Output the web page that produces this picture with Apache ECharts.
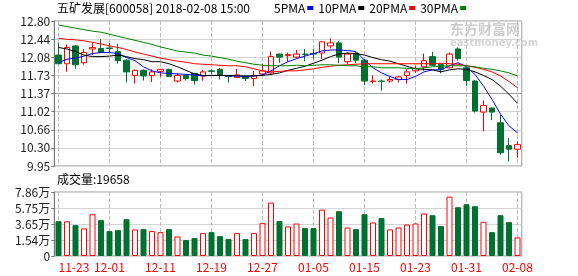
<!DOCTYPE html>
<html><head><meta charset="utf-8">
<script src="https://cdn.jsdelivr.net/npm/echarts@6/dist/echarts.min.js"></script>
<style>html,body{margin:0;padding:0;background:#fff}#c{width:578px;height:276px}</style>
</head><body><div id="c"></div>
<script>
const dates = ['11-23','11-24','11-27','11-28','11-29','11-30','12-01','12-04','12-05','12-06','12-07','12-08','12-11','12-12','12-13','12-14','12-15','12-18','12-19','12-20','12-21','12-22','12-25','12-26','12-27','12-28','12-29','01-02','01-03','01-04','01-05','01-08','01-09','01-10','01-11','01-12','01-15','01-16','01-17','01-18','01-19','01-22','01-23','01-24','01-25','01-26','01-29','01-30','01-31','02-01','02-02','02-05','02-06','02-07','02-08'];
const opens  = [12.13,11.96,12.31,11.98,12.25,12.26,12.27,12.20,12.03,11.73,11.83,11.73,11.81,11.85,11.62,11.73,11.77,11.72,11.82,11.85,11.72,11.69,11.71,11.67,11.76,11.78,12.15,12.12,12.09,12.15,12.16,12.17,12.31,12.37,12.00,12.16,12.03,11.61,11.62,11.62,11.65,11.73,11.82,11.90,12.10,11.95,11.88,12.25,11.88,11.62,11.01,11.09,10.80,10.35,10.28];
const closes = [11.96,12.28,11.94,12.18,12.28,12.18,12.26,12.02,11.80,11.83,11.72,11.80,11.85,11.71,11.73,11.67,11.63,11.80,11.81,11.74,11.71,11.74,11.67,11.73,11.82,12.10,12.09,12.14,12.15,12.14,12.15,12.39,12.37,12.09,12.15,12.03,11.62,11.62,11.61,11.65,11.70,11.80,11.87,12.02,11.93,11.85,12.15,12.06,11.63,11.03,11.14,11.01,10.21,10.28,10.37];
const lows   = [11.95,11.80,11.86,11.94,12.13,12.17,12.18,11.96,11.59,11.57,11.63,11.60,11.70,11.70,11.59,11.63,11.55,11.63,11.75,11.65,11.59,11.68,11.62,11.52,11.72,11.76,11.98,12.00,12.07,12.01,12.05,12.05,12.26,11.97,11.95,11.97,11.54,11.57,11.43,11.59,11.59,11.57,11.78,11.82,11.92,11.77,11.87,12.02,11.52,11.00,10.63,10.85,10.17,10.04,10.11];
const highs  = [12.37,12.34,12.33,12.25,12.37,12.44,12.37,12.35,12.05,11.85,11.85,11.85,11.86,11.86,11.78,11.75,11.78,11.84,11.85,11.87,11.73,11.86,11.73,11.82,11.96,12.20,12.16,12.18,12.23,12.25,12.25,12.40,12.46,12.41,12.19,12.19,12.05,11.73,11.65,11.71,11.72,11.85,11.92,12.16,12.19,11.96,12.18,12.28,11.90,11.64,11.24,11.10,10.95,10.50,10.43];
const volumes = [4.28,4.26,3.79,3.38,5.13,4.40,3.06,3.18,4.52,3.26,3.30,3.06,2.93,3.30,2.40,1.96,2.20,2.81,2.93,2.44,2.08,2.81,2.08,2.81,4.03,6.56,4.28,3.63,3.99,3.42,3.42,5.70,4.73,5.50,3.50,3.30,5.13,4.12,4.65,3.26,3.50,3.87,3.99,5.22,5.01,3.67,7.29,5.99,6.36,6.11,4.20,2.93,5.01,4.16,2.28];
const ma5  = [11.98,12.05,12.07,12.11,12.16,12.18,12.18,12.16,12.08,12.02,11.90,11.82,11.78,11.77,11.76,11.75,11.74,11.72,11.73,11.73,11.72,11.72,11.71,11.72,11.74,11.82,11.92,12.00,12.06,12.11,12.16,12.21,12.23,12.23,12.22,12.20,12.03,11.88,11.78,11.71,11.65,11.65,11.71,11.80,11.84,11.84,11.92,11.98,11.90,11.75,11.52,11.26,10.97,10.74,10.60];
const ma10 = [12.28,12.25,12.20,12.13,12.10,12.10,12.11,12.13,12.10,12.06,12.04,12.00,12.00,11.96,11.90,11.83,11.76,11.73,11.73,11.73,11.73,11.72,11.72,11.72,11.73,11.75,11.78,11.83,11.87,11.91,11.97,12.03,12.10,12.15,12.17,12.16,12.13,12.08,12.04,12.01,11.96,11.91,11.86,11.85,11.84,11.80,11.84,11.86,11.85,11.80,11.73,11.65,11.52,11.36,11.18];
const ma20 = [12.46,12.44,12.43,12.41,12.38,12.35,12.31,12.28,12.24,12.19,12.15,12.11,12.07,12.04,12.01,11.99,11.96,11.95,11.94,11.93,11.92,11.92,11.90,11.86,11.82,11.80,11.81,11.82,11.82,11.84,11.86,11.89,11.91,11.93,11.94,11.95,11.96,11.96,11.96,11.96,11.96,11.96,11.96,11.96,11.96,11.97,11.96,11.95,11.92,11.89,11.85,11.80,11.72,11.61,11.49];
const ma30 = [12.72,12.69,12.66,12.63,12.60,12.58,12.54,12.50,12.46,12.42,12.38,12.34,12.29,12.25,12.21,12.19,12.17,12.13,12.11,12.08,12.05,12.01,11.98,11.95,11.93,11.92,11.92,11.92,11.93,11.92,11.93,11.94,11.94,11.93,11.92,11.92,11.90,11.90,11.88,11.88,11.88,11.87,11.86,11.88,11.90,11.91,11.92,11.92,11.92,11.90,11.87,11.85,11.82,11.78,11.72];
const priceTickLabels = ['9.95','10.30','10.66','11.02','11.37','11.73','12.08','12.44','12.80'];
const volTickLabels = ['0','1.54万','3.65万','5.75万','7.86万'];
const titleText = '五矿发展[600058] 2018-02-08 15:00';
const volumeTitle = '成交量:19658';
const maNames = ['5PMA','10PMA','20PMA','30PMA'];

const UP = '#ff0000', DOWN = '#007130';
const FONT = '"Noto Sans CJK SC", "DejaVu Sans", sans-serif';
const PMIN = 9.95, PMAX = 12.80, PSTEP = (PMAX - PMIN) / 8;
const VMAX = 7.86, VSTEP = VMAX / 4;

const candleData = dates.map((d, i) => [opens[i], closes[i], lows[i], highs[i]]);
const volData = volumes.map((v, i) => {
  const up = closes[i] > opens[i];
  return { value: v, itemStyle: { color: up ? '#ffffff' : DOWN, borderColor: up ? UP : DOWN, borderWidth: 1 } };
});
const hLine = priceTickLabels.map((t, i) => i === 4 ? '#a0a0a0' : '#d4d4d4');

const chart = echarts.init(document.getElementById('c'));
const grids = [
  { left: 54.25, right: 56.25, top: 21, height: 145, show: true, borderColor: '#999', borderWidth: 1 },
  { left: 54.25, right: 56.25, top: 192, height: 64, show: true, borderColor: '#999', borderWidth: 1 }
];
function makeX(gridIndex, showLabel) {
  return {
    type: 'category', data: dates, gridIndex: gridIndex,
    axisLine: { show: false },
    axisTick: { show: false },
    splitLine: { show: true, interval: 5, alignWithLabel: true, lineStyle: { color: '#bcbcbc', type: 'dashed', width: 1 } },
    axisLabel: showLabel
      ? { show: true, interval: 5, color: '#ff0000', fontSize: 12, fontFamily: FONT, margin: 5, alignMinLabel: 'left' }
      : { show: false, interval: 5 }
  };
}
function makeY(gridIndex, min, max, step, labels, lineColor) {
  return {
    type: 'value', gridIndex: gridIndex, min: min, max: max, interval: step,
    axisLine: { show: true, lineStyle: { color: '#777' } },
    axisTick: { show: true, length: 3, inside: false, lineStyle: { color: '#777' } },
    axisLabel: { color: '#222', fontSize: 12, fontFamily: FONT, margin: 4, formatter: v => labels[Math.round((v - min) / step)] },
    splitLine: { show: true, lineStyle: { color: lineColor, width: 1 } }
  };
}
chart.setOption({
  animation: false,
  textStyle: { fontFamily: FONT },
  grid: grids,
  legend: {
    data: maNames, left: 274, top: 2, align: 'right', icon: 'rect', itemWidth: 6, itemHeight: 4, itemGap: 5,
    selectedMode: false, padding: 0,
    textStyle: { fontSize: 12, color: '#000', fontFamily: FONT, padding: [0, -3, 0, 0] }
  },
  graphic: [
    { type: 'text', left: 57, top: 2, style: { text: titleText, font: '12px ' + FONT, fill: '#000' } },
    { type: 'text', left: 57, top: 173, style: { text: volumeTitle, font: '12px ' + FONT, fill: '#000' } },
    { type: 'text', left: 450, top: 22, style: { text: '东方财富网', font: 'bold 14px ' + FONT, fill: '#cdcdcd' } },
    { type: 'text', left: 450, top: 38, style: { text: 'eastmoney.com', font: 'bold 10px "DejaVu Sans", sans-serif', fill: '#d5d5d5' } }
  ],
  xAxis: [makeX(0, false), makeX(1, true)],
  yAxis: [
    makeY(0, PMIN, PMAX, PSTEP, priceTickLabels, hLine),
    makeY(1, 0, VMAX, VSTEP, volTickLabels, '#d4d4d4')
  ],
  series: [
    {
      type: 'candlestick', name: 'K', xAxisIndex: 0, yAxisIndex: 0, data: candleData, barWidth: 6,
      itemStyle: { color: '#ffffff', color0: DOWN, borderColor: UP, borderColor0: DOWN, borderWidth: 1 }
    },
    { type: 'line', name: maNames[0], xAxisIndex: 0, yAxisIndex: 0, data: ma5, symbol: 'none', z: 3, color: '#0000ff', lineStyle: { color: '#0000ff', width: 1 } },
    { type: 'line', name: maNames[1], xAxisIndex: 0, yAxisIndex: 0, data: ma10, symbol: 'none', z: 3, color: '#000000', lineStyle: { color: '#000000', width: 1 } },
    { type: 'line', name: maNames[2], xAxisIndex: 0, yAxisIndex: 0, data: ma20, symbol: 'none', z: 3, color: '#ff0000', lineStyle: { color: '#ff0000', width: 1 } },
    { type: 'line', name: maNames[3], xAxisIndex: 0, yAxisIndex: 0, data: ma30, symbol: 'none', z: 3, color: '#008000', lineStyle: { color: '#008000', width: 1 } },
    { type: 'bar', name: 'VOL', xAxisIndex: 1, yAxisIndex: 1, data: volData, barWidth: 6 }
  ]
});
</script>
</body></html>
